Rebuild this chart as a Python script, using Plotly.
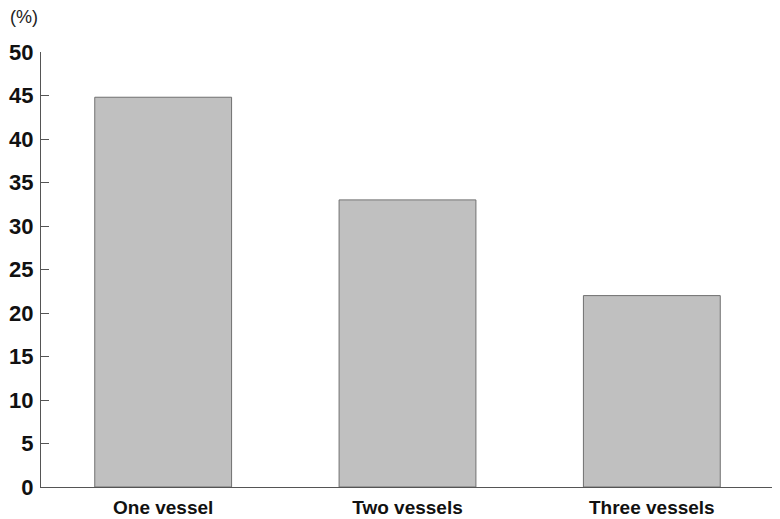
import plotly.graph_objects as go

categories = ["One vessel", "Two vessels", "Three vessels"]
values = [44.8, 33.0, 22.0]
y_ticks = [0, 5, 10, 15, 20, 25, 30, 35, 40, 45, 50]

fig = go.Figure()
fig.add_trace(go.Bar(
    x=categories, y=values, width=0.56,
    marker=dict(color="#c0c0c0", line=dict(color="#707070", width=1)),
    hoverinfo="skip",
))

# page body has an 8px margin, so the figure is sized to fit the window
W, H = 772, 511
L, R, T, B = 33, 6, 44, 32
pw = W - L - R
ph = H - T - B

fig.update_layout(
    width=W, height=H,
    margin=dict(l=L, r=R, t=T, b=B),
    plot_bgcolor="white", paper_bgcolor="white",
    showlegend=False,
    font=dict(family="Liberation Sans, Arial, sans-serif", color="#111111"),
    xaxis=dict(
        automargin=False,
        showline=True, linecolor="#555555", linewidth=1,
        ticks="", showgrid=False, zeroline=False,
        tickfont=dict(size=19, family="Liberation Sans, Arial", color="#111111", weight="bold"),
        ticklabelstandoff=3,
    ),
    yaxis=dict(
        automargin=False,
        range=[0, 50], tickvals=y_ticks,
        showline=True, linecolor="#555555", linewidth=1,
        ticks="inside", ticklen=8, tickcolor="#555555", tickwidth=1,
        showgrid=False, zeroline=False,
        tickfont=dict(size=22, color="#111111", weight="bold"),
        ticklabelstandoff=2,
    ),
    annotations=[dict(
        text="(%)", xref="paper", yref="paper", x=-L / pw, y=(ph + T - 9) / ph,
        xanchor="left", yanchor="middle", showarrow=False,
        font=dict(size=18, color="#222222", family="Liberation Sans, Arial"),
    )],
)

fig.write_html("out.html")
